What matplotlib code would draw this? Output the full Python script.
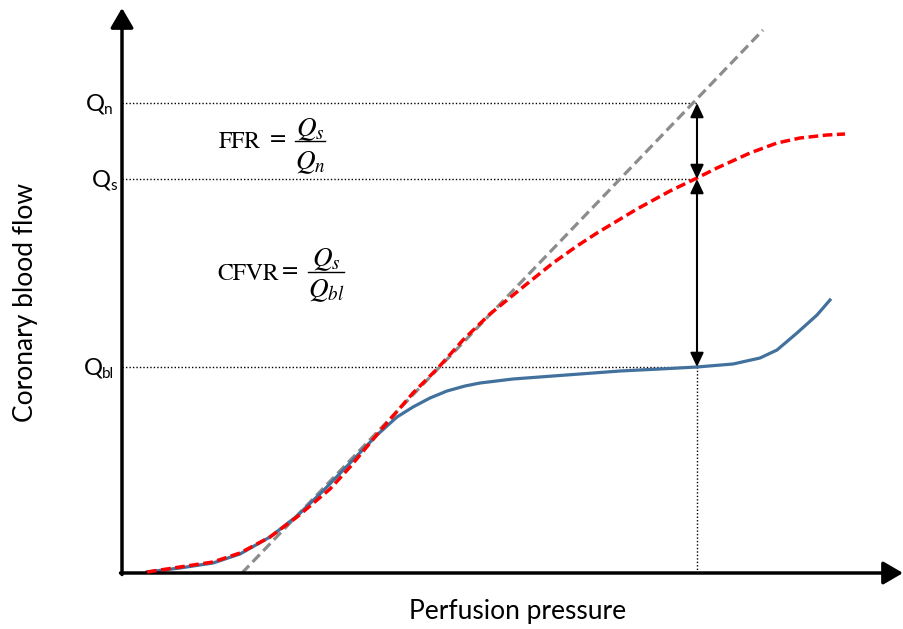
"""Coronary flow vs perfusion pressure schematic (FFR / CFVR)."""
import matplotlib
matplotlib.use("Agg")
import matplotlib.pyplot as plt

# pressure / flow pairs (origin at the axis corner)
baseline_p = [25, 58, 91, 118, 148, 175, 201, 228, 255, 275, 291, 308, 325, 343,
              358, 391, 431, 458, 498, 538, 575, 611, 638, 655, 675, 695, 708]
baseline_q = [1, 5, 10, 19, 36, 57, 82, 110, 138, 156, 166, 175, 182, 187,
              190, 194, 197, 199, 202, 204, 206, 209, 215, 223, 240, 258, 273]

stenosis_p = [25, 58, 91, 118, 148, 175, 208, 228, 258, 291, 316, 341, 368, 401,
              431, 455, 475, 515, 548, 575, 595, 628, 655, 678, 705, 723]
stenosis_q = [1, 6, 11, 20, 36, 56, 84, 106, 142, 180, 205, 233, 259, 286,
              310, 327, 340, 364, 382, 395, 405, 420, 430, 435, 438, 439]

normal_p = [120, 641]
normal_q = [0, 543]

levels = {"n": 470, "s": 394, "bl": 206}
p_measure = 575

plt.rcParams["mathtext.fontset"] = "stix"
SANS = ["Lato", "DejaVu Sans"]
SERIF = "STIXGeneral"

fig = plt.figure(figsize=(9.04, 6.29), dpi=100)
ax = fig.add_axes([0, 0, 1, 1])
ax.set_xlim(-122, 782)
ax.set_ylim(-56, 573)
ax.axis("off")

# dotted guides
for key, q in levels.items():
    ax.plot([0, p_measure], [q, q], color="black", lw=1.0, ls=(0, (1, 1.5)), zorder=1)
ax.plot([p_measure, p_measure], [0, levels["bl"]], color="black", lw=1.0,
        ls=(0, (1, 1.5)), zorder=1)

ax.plot(baseline_p, baseline_q, color="#41719C", lw=2.3, solid_joinstyle="round", zorder=3)
ax.plot(normal_p, normal_q, color="#8C8C8C", lw=2.3, dashes=(3.2, 1.6), zorder=2)
ax.plot(stenosis_p, stenosis_q, color="#FF0000", lw=2.5, dashes=(2.8, 1.3),
        dash_joinstyle="round", zorder=4)

# axes with arrow heads
arrow_axis = dict(arrowstyle="-|>,head_length=0.6,head_width=0.35", lw=2.5,
                  color="black", mutation_scale=20, shrinkA=0, shrinkB=0)
ax.annotate("", xy=(0, 565), xytext=(0, -1.5), arrowprops=arrow_axis)
ax.annotate("", xy=(781, 0), xytext=(-1.5, 0), arrowprops=arrow_axis)

# measurement arrows
for lo, hi in [(levels["s"], levels["n"]), (levels["bl"], levels["s"])]:
    ax.annotate("", xy=(p_measure, hi), xytext=(p_measure, lo),
                arrowprops=dict(arrowstyle="<|-|>,head_length=0.85,head_width=0.4",
                                lw=1.5, color="black", mutation_scale=10,
                                shrinkA=0, shrinkB=0), zorder=5)

# level labels
label_x = {"n": (-36, -18), "s": (-30, -12), "bl": (-38, -20)}
for key, q in levels.items():
    qx, sx = label_x[key]
    ax.text(qx, q - 8, "Q", fontsize=17, family=SANS, va="baseline", ha="left")
    ax.text(sx, q - 11, key, fontsize=11, family=SANS, va="baseline", ha="left")


# ratio formulas: name, "=", numerator over denominator
def fraction(name, x_name, x_eq, bar, y_bar, y_name, num, y_num, den, y_den):
    ax.text(x_name, y_name, name, fontsize=17, family=SERIF, va="baseline", ha="left")
    ax.text(x_eq, y_name + 3, "=", fontsize=17, family=SERIF, va="baseline", ha="center")
    ax.plot(bar, [y_bar, y_bar], color="black", lw=1.0)
    xc = (bar[0] + bar[1]) / 2
    ax.text(xc, y_num, num, fontsize=19.5, va="baseline", ha="center")
    ax.text(xc, y_den, den, fontsize=19.5, va="baseline", ha="center")


fraction("FFR", 97, 156, [173, 203], 432, 425, r"$Q_s$", 437, r"$Q_n$", 404)
fraction("CFVR", 95, 168, [186, 222], 301, 293, r"$Q_s$", 307, r"$Q_{bl}$", 276)

ax.text(396, -39, "Perfusion pressure", fontsize=19, family=SANS,
        ha="center", va="center")
ax.text(-96, 271, "Coronary blood flow", fontsize=19, family=SANS,
        ha="center", va="center", rotation=90)

fig.savefig("out.png", dpi=100)
plt.close(fig)
